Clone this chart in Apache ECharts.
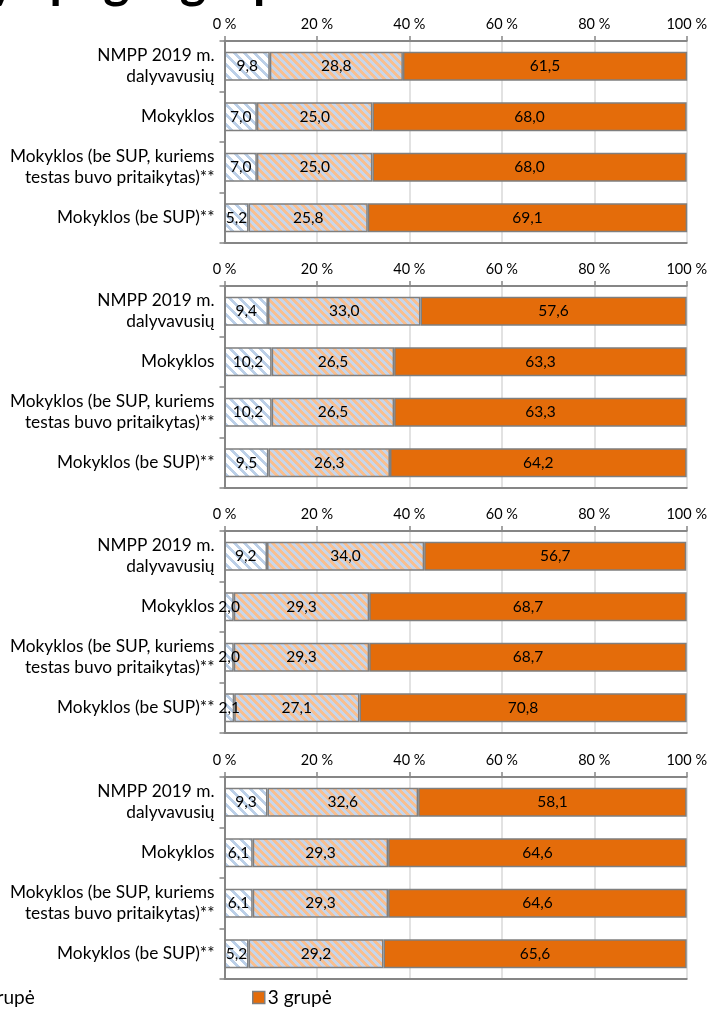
<!DOCTYPE html>
<html>
<head>
<meta charset="UTF-8">
<title>NMPP grupės</title>
<script src="https://cdn.jsdelivr.net/npm/echarts@6/dist/echarts.min.js"></script>
<style>
  body { margin: 0; background: #fff; }
  #main { width: 710px; height: 1019px; }
</style>
</head>
<body>
<div id="main"></div>
<script type="text/javascript">
  var categories = ['NMPP 2019 m.\ndalyvavusių', 'Mokyklos', 'Mokyklos (be SUP, kuriems\ntestas buvo pritaikytas)**', 'Mokyklos (be SUP)**'];
  var groupNames = ['1 grupė', '2 grupė', '3 grupė'];

  // each panel: values of 1, 2 and 3 grupė for the four categories
  var panel1_g1 = [9.8, 7.0, 7.0, 5.2];
  var panel1_g2 = [28.8, 25.0, 25.0, 25.8];
  var panel1_g3 = [61.5, 68.0, 68.0, 69.1];

  var panel2_g1 = [9.4, 10.2, 10.2, 9.5];
  var panel2_g2 = [33.0, 26.5, 26.5, 26.3];
  var panel2_g3 = [57.6, 63.3, 63.3, 64.2];

  var panel3_g1 = [9.2, 2.0, 2.0, 2.1];
  var panel3_g2 = [34.0, 29.3, 29.3, 27.1];
  var panel3_g3 = [56.7, 68.7, 68.7, 70.8];

  var panel4_g1 = [9.3, 6.1, 6.1, 5.2];
  var panel4_g2 = [32.6, 29.3, 29.3, 29.2];
  var panel4_g3 = [58.1, 64.6, 64.6, 65.6];

  var panels = [
    [panel1_g1, panel1_g2, panel1_g3],
    [panel2_g1, panel2_g2, panel2_g3],
    [panel3_g1, panel3_g2, panel3_g3],
    [panel4_g1, panel4_g2, panel4_g3]
  ];

  var font = 'Lato';
  var axisGray = '#868686';

  // diagonal stripe tile ("\" direction)
  function stripes(size, width, fg, bg) {
    var c = document.createElement('canvas');
    c.width = size;
    c.height = size;
    var ctx = c.getContext('2d');
    ctx.fillStyle = bg;
    ctx.fillRect(0, 0, size, size);
    ctx.fillStyle = fg;
    for (var y = 0; y < size; y++) {
      for (var x = 0; x < size; x++) {
        if ((((x - y) % size) + size) % size < width) ctx.fillRect(x, y, 1, 1);
      }
    }
    return { image: c, repeat: 'repeat' };
  }

  var fills = [
    stripes(10, 4, '#bcd0e8', '#ffffff'),
    stripes(8, 4, '#f9bf8f', '#c6d6ec'),
    '#e46c0a'
  ];

  var gridTops = [41, 286, 531, 777];
  var grids = [], xAxes = [], yAxes = [], series = [];

  for (var i = 0; i < 4; i++) {
    grids.push({ left: 224.5, width: 463.5, top: gridTops[i], height: 202 });

    xAxes.push({
      type: 'value', gridIndex: i, position: 'top', min: 0, max: 100, interval: 20,
      axisLine: { show: true, lineStyle: { color: axisGray, width: 2 } },
      axisTick: { show: true, length: 5, lineStyle: { color: axisGray, width: 1.5 } },
      axisLabel: { formatter: '{value} %', color: '#000', fontFamily: font, fontSize: 14.5, margin: 9 },
      splitLine: { show: true, lineStyle: { color: '#d9d9d9', width: 1.5 } }
    });
    xAxes.push({
      type: 'value', gridIndex: i, position: 'bottom', min: 0, max: 100,
      axisLine: { show: true, lineStyle: { color: axisGray, width: 2 } },
      axisTick: { show: false }, axisLabel: { show: false }, splitLine: { show: false }
    });

    yAxes.push({
      type: 'category', gridIndex: i, data: categories, inverse: true,
      axisLine: { show: true, lineStyle: { color: axisGray, width: 2 } },
      axisTick: { show: true, length: 5, lineStyle: { color: axisGray, width: 1.5 } },
      axisLabel: {
        color: '#000', fontFamily: font, fontSize: 17.3, lineHeight: 21, margin: 10, align: 'right',
        padding: [3, 0, 0, 0]
      }
    });

    for (var g = 0; g < 3; g++) {
      series.push({
        name: groupNames[g], type: 'bar', stack: 'p' + i,
        xAxisIndex: 2 * i, yAxisIndex: i,
        barWidth: 29,
        data: panels[i][g],
        itemStyle: { color: fills[g], borderColor: '#7f7f7f', borderWidth: 1.5 },
        label: {
          show: true, position: 'inside', color: '#000', fontFamily: font, fontSize: 15.5,
          formatter: function (p) { return p.value.toFixed(1).replace('.', ','); }
        },
        emphasis: { disabled: true }
      });
    }
  }

  function legendAt(x, name) {
    return {
      left: x, top: 988, padding: 0, data: [name], itemWidth: 12, itemHeight: 12, itemGap: 4,
      icon: 'rect', selectedMode: false,
      itemStyle: { borderColor: '#7f7f7f', borderWidth: 1.5 },
      textStyle: { fontFamily: font, fontSize: 19, color: '#000', padding: [0, 0, 0, -2] }
    };
  }

  var option = {
    backgroundColor: '#fff',
    animation: false,
    title: {
      text: 'Pasiekimų lygmenys pagal grupes',
      right: 375, top: -48,
      textStyle: { fontFamily: font, fontSize: 50, fontWeight: 'bold', color: '#000' }
    },
    legend: [legendAt(-326, groupNames[0]), legendAt(-45, groupNames[1]), legendAt(252, groupNames[2])],
    grid: grids,
    xAxis: xAxes,
    yAxis: yAxes,
    series: series
  };

  var myChart = echarts.init(document.getElementById('main'));
  myChart.setOption(option);
</script>
</body>
</html>
